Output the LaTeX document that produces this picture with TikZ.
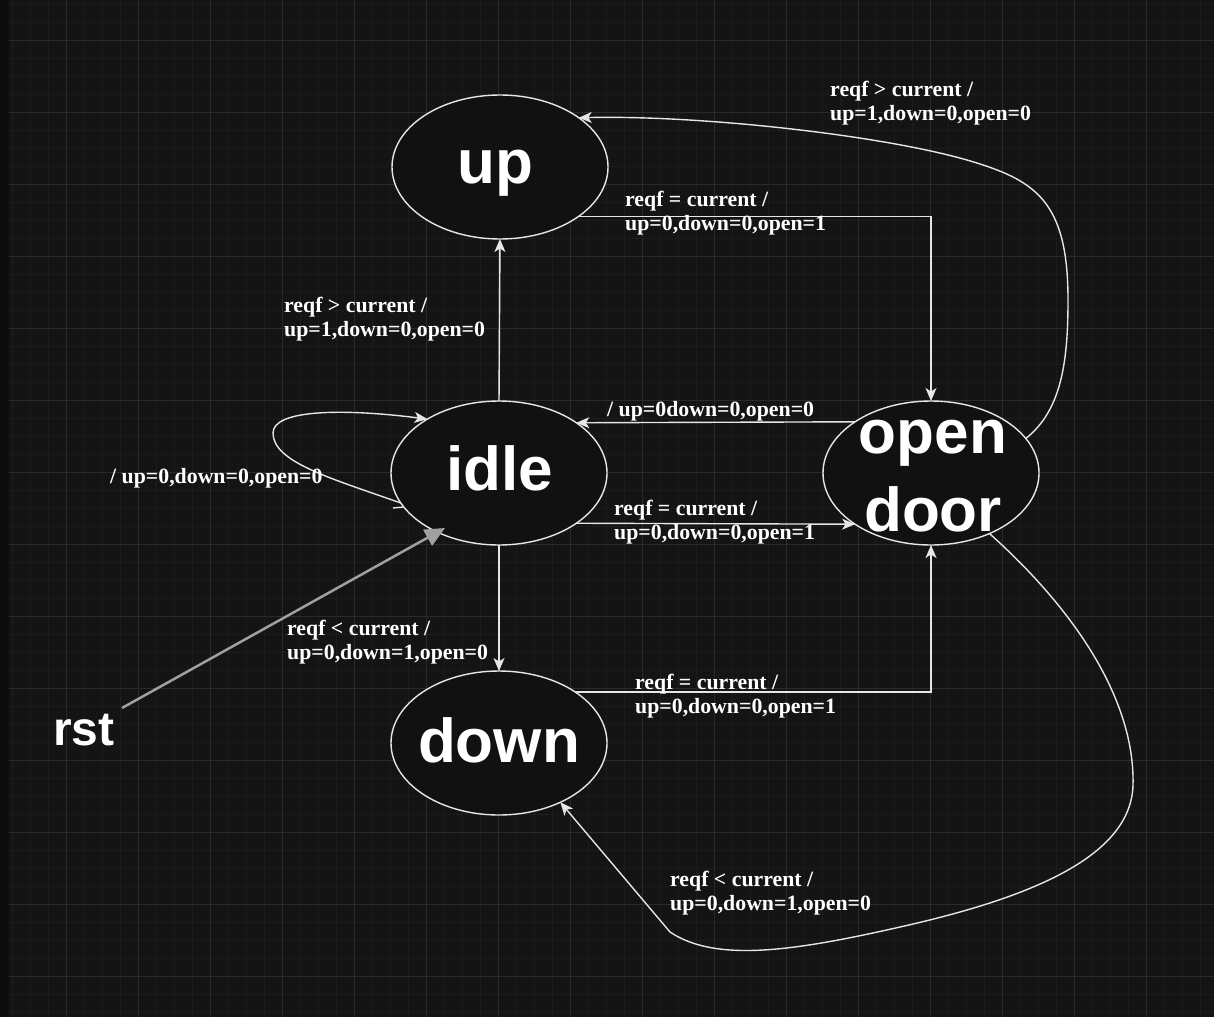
\documentclass[tikz,border=0pt]{standalone}
\usepackage{fontspec}
\newfontfamily\labfont{Liberation Serif}
\newfontfamily\statefont{Liberation Sans}
\usetikzlibrary{arrows.meta,calc,shapes.geometric}
\definecolor{bgc}{HTML}{141414}
\definecolor{stripc}{HTML}{0C0C0C}
\definecolor{minorc}{HTML}{1C1C1C}
\definecolor{majorc}{HTML}{2A2A2A}
\definecolor{edgec}{HTML}{E6E6E6}
\definecolor{statefill}{HTML}{111111}
\definecolor{rstc}{HTML}{A0A0A0}
\tikzset{
  statebox/.style={ellipse, draw=edgec, line width=1.4pt, fill=statefill,
    minimum width=216pt, minimum height=144pt, inner sep=0pt, outer sep=0pt},
  statetext/.style={font=\statefont\bfseries\fontsize{62}{78}\selectfont, text=white,
    align=center, inner sep=0pt},
  lbl/.style={font=\labfont\bfseries\fontsize{21.8}{24}\selectfont, text=white,
    align=left, inner sep=0pt, anchor=west},
  edge/.style={draw=edgec, line width=1.4pt},
  arr/.style={edge, -{Stealth[length=13pt,width=11pt,inset=3.5pt]}},
  rstarr/.style={draw=rstc, line width=2.5pt, -{Triangle[length=20pt,width=18pt]}}
}
\begin{document}
\begin{tikzpicture}[x=1pt,y=-1pt]
\useasboundingbox (0,0) rectangle (1214,1017);
% background grid
\fill[bgc] (0,0) rectangle (1214,1017);
\foreach \i in {0,...,67} \draw[minorc, line width=0.8pt] ({12.7+18*\i},0) -- ++(0,1017);
\foreach \j in {0,...,56} \draw[minorc, line width=0.8pt] (0,{4+18*\j}) -- ++(1214,0);
\foreach \k in {0,...,15} \draw[majorc, line width=1pt] ({66.7+72*\k},0) -- ++(0,1017);
\foreach \k in {0,...,13} \draw[majorc, line width=1pt] (0,{40+72*\k}) -- ++(1214,0);
\fill[stripc] (0,0) rectangle (9,1017);

% states
\node[statebox] (up) at (500,167) {};
\node[statebox] (idle) at (499,473) {};
\node[statebox] (down) at (499,743) {};
\node[statebox] (od) at (931,473) {};
\node[statetext, anchor=base] (upt) at ($(up.center)+(-5,16)$) {up};
\node[statetext, anchor=base] (idlet) at ($(idle.center)+(1,17)$) {idle};
\node[statetext, anchor=base] (downt) at ($(down.center)+(0,19)$) {down};
\node[statetext] (odt) at ($(od.center)+(2,3)$) {open\\door};
\node[font=\statefont\bfseries\fontsize{48}{56}\selectfont, text=white, inner sep=0pt] (rst) at (84,730) {rst};

% edges
\draw[arr] (idle.north) -- (up.south);
\draw[arr] (up.-32.5) -| (od.north);
\draw[arr] (od.20) .. controls (1062,410) and (1068,360) .. (1068,300)
  .. controls (1068,200) and (1035,180) .. (967,160)
  .. controls (880,135) and (700,115) .. (up.32);
\draw[arr] (od.146.2) -- (idle.33.8);
\draw[arr] (idle.-33.8) -- (od.-146.2);
\draw[arr] (idle.south) -- (down.north);
\draw[arr] (down.34) -| (od.south);
\draw[arr] (od.-46) .. controls (1075,610) and (1135,700) .. (1133,785)
  .. controls (1131,860) and (1020,900) .. (900,927)
  .. controls (790,952) and (715,962) .. (670,932) -- (down.-44);
\draw[arr] (idle.197) .. controls (330,478) and (273,462) .. (273,433)
  .. controls (273,410) and (340,408) .. (idle.143);
\draw[edge] ($(idle.197)+(-8,5)$) -- ++(10,-1);
\draw[rstarr] ($(rst.center)+(38,-22)$) -- ($(idle.center)+(-54,55)$);

% labels
\node[lbl] (l1) at (284,319) {reqf > current /\\up=1,down=0,open=0};
\node[lbl] (l2) at (625,213) {reqf = current /\\up=0,down=0,open=1};
\node[lbl] (l3) at (830,103) {reqf > current /\\up=1,down=0,open=0};
\node[lbl] (l4) at (607,411) {/ up=0down=0,open=0};
\node[lbl] (l5) at (614,522) {reqf = current /\\up=0,down=0,open=1};
\node[lbl] (l6) at (287,642) {reqf < current /\\up=0,down=1,open=0};
\node[lbl] (l7) at (635,696) {reqf = current /\\up=0,down=0,open=1};
\node[lbl] (l8) at (670,893) {reqf < current /\\up=0,down=1,open=0};
\node[lbl] (l9) at (110,478) {/ up=0,down=0,open=0};
\end{tikzpicture}
\end{document}
